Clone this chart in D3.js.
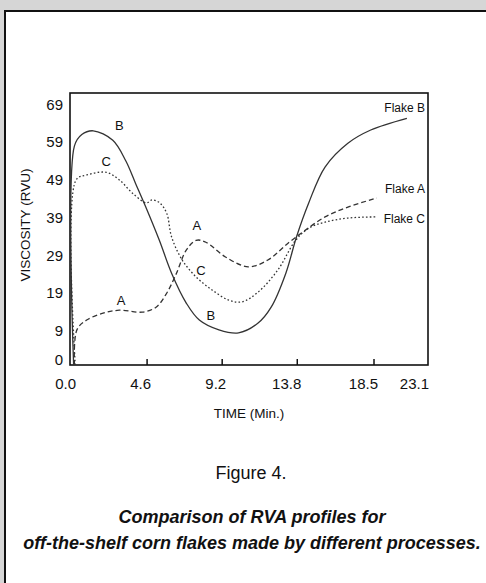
<!DOCTYPE html>
<html>
<head>
<meta charset="utf-8">
<script src="https://cdn.jsdelivr.net/npm/d3@7"></script>
<style>
  html, body { margin: 0; padding: 0; background: #d6d6d6; }
  svg { display: block; }
  text { font-family: "Liberation Sans", Arial, sans-serif; fill: #111; }
</style>
</head>
<body>
<div id="chart"></div>
<script>
// RVA profiles, time (min) vs viscosity (RVU)
const flakeA = [[0.15,0],[0.3,9.3],[0.9,11.9],[1.9,13.7],[2.9,14.5],[4.3,14],[5.15,15.3],[5.8,19],[6.4,24.3],[7.0,30.4],[7.6,33],[8.2,32.5],[9.4,28.6],[10.8,26],[12.0,27.8],[13.25,32.3],[14.3,35.7],[15.5,39.2],[16.9,41.8],[18.75,44.2]];
const flakeB = [[0.1,0],[0.15,58],[0.6,61],[1.3,62],[2.5,59.5],[3.3,54],[3.9,48],[4.5,42],[5.35,33],[6.1,24.3],[7.0,16.4],[7.8,11.9],[9.0,9.3],[10.2,8.5],[11.4,11.1],[12.2,15.3],[13.1,24.3],[13.75,33.9],[14.5,42.9],[15.5,52.4],[16.9,58.7],[18.3,62.2],[21.3,65.3]];
const flakeC = [[0.2,0],[0.25,49],[0.9,50.3],[2.1,51],[2.9,49],[3.7,45.5],[4.55,42.9],[4.9,43.7],[5.35,43],[5.8,40.2],[6.1,33.9],[6.75,27.8],[7.6,23.3],[8.6,19.8],[9.6,17.2],[10.4,16.7],[11.4,19.3],[12.6,25.1],[13.7,33],[14.5,36.2],[15.5,37.8],[16.9,38.9],[18.75,39.2]];

const xTicks = [0, 4.6, 9.2, 13.8, 18.5, 23.1];
const yTicks = [0, 9, 19, 29, 39, 49, 59, 69];

// letters placed along the curves
const curveLetters = [
  { t: 'B', x: 2.9, y: 63.5 }, { t: 'C', x: 2.1, y: 54 },
  { t: 'A', x: 7.65, y: 37 },  { t: 'C', x: 7.9, y: 25 },
  { t: 'B', x: 8.5, y: 13.2 }, { t: 'A', x: 3.0, y: 17.2 }
];
const endLabels = [
  { t: 'Flake B', y: 68 }, { t: 'Flake A', y: 46.6 }, { t: 'Flake C', y: 38.6 }
];

const W = 486, H = 583;
const BOX = { left: 70, right: 428, top: 93, bottom: 365 };

const svg = d3.select('#chart').append('svg')
  .attr('width', W).attr('height', H);

// white panel with black frame
svg.append('rect')
  .attr('x', 5).attr('y', 11).attr('width', W).attr('height', H)
  .attr('fill', '#fff').attr('stroke', '#111').attr('stroke-width', 2);

const x = d3.scaleLinear().domain([0, 18.5, 23.1]).range([72, 374, BOX.right]);
const y = d3.scaleLinear().domain([0, 72]).range([BOX.bottom, BOX.top]);

// plot frame
svg.append('rect')
  .attr('x', BOX.left).attr('y', BOX.top)
  .attr('width', BOX.right - BOX.left).attr('height', BOX.bottom - BOX.top)
  .attr('fill', 'none').attr('stroke', '#111').attr('stroke-width', 1.6);

// x axis: inner ticks, labels right-aligned to tick
const xAxis = svg.append('g');
xAxis.selectAll('line')
  .data(xTicks.slice(1, 5))
  .enter().append('line')
    .attr('x1', d => x(d)).attr('x2', d => x(d))
    .attr('y1', BOX.bottom).attr('y2', BOX.bottom - 6)
    .attr('stroke', '#111').attr('stroke-width', 1.5);
xAxis.selectAll('text')
  .data(xTicks)
  .enter().append('text')
    .attr('x', d => d === 23.1 ? x(d) + 1 : x(d) + 4)
    .attr('y', 389)
    .attr('text-anchor', 'end')
    .attr('font-size', 15)
    .text(d => d.toFixed(1));

// y axis labels
svg.append('g').selectAll('text')
  .data(yTicks)
  .enter().append('text')
    .attr('x', 63)
    .attr('y', d => d === 0 ? y(d) - 5 : y(d))
    .attr('dy', '0.35em')
    .attr('text-anchor', 'end')
    .attr('font-size', 15)
    .text(d => d);

svg.append('text')
  .attr('transform', 'translate(30,225) rotate(-90)')
  .attr('text-anchor', 'middle')
  .attr('font-size', 13.5)
  .text('VISCOSITY (RVU)');

svg.append('text')
  .attr('x', 249).attr('y', 418)
  .attr('text-anchor', 'middle')
  .attr('font-size', 13.5)
  .text('TIME (Min.)');

// curves
const line = d3.line()
  .x(d => x(d[0])).y(d => y(d[1]))
  .curve(d3.curveCatmullRom.alpha(0.5));

const series = [
  { data: flakeA, dash: '5,3' },
  { data: flakeB, dash: null },
  { data: flakeC, dash: '1.6,2.2' }
];
svg.append('g').selectAll('path')
  .data(series)
  .enter().append('path')
    .attr('d', d => line(d.data))
    .attr('fill', 'none')
    .attr('stroke', '#333')
    .attr('stroke-width', 1.3)
    .attr('stroke-dasharray', d => d.dash);

svg.append('g').selectAll('text')
  .data(curveLetters)
  .enter().append('text')
    .attr('x', d => x(d.x)).attr('y', d => y(d.y))
    .attr('dy', '0.35em')
    .attr('text-anchor', 'middle')
    .attr('font-size', 13)
    .text(d => d.t);

svg.append('g').selectAll('text')
  .data(endLabels)
  .enter().append('text')
    .attr('x', BOX.right - 3).attr('y', d => y(d.y))
    .attr('dy', '0.35em')
    .attr('text-anchor', 'end')
    .attr('font-size', 12)
    .text(d => d.t);

// caption
svg.append('text')
  .attr('x', 251).attr('y', 479)
  .attr('text-anchor', 'middle')
  .attr('font-size', 18)
  .text('Figure 4.');

svg.append('g').selectAll('text')
  .data(['Comparison of RVA profiles for', 'off-the-shelf corn flakes made by different processes.'])
  .enter().append('text')
    .attr('x', 252)
    .attr('y', (d, i) => 523 + i * 26)
    .attr('text-anchor', 'middle')
    .attr('font-size', 18)
    .attr('font-weight', 'bold')
    .attr('font-style', 'italic')
    .text(d => d);
</script>
</body>
</html>
